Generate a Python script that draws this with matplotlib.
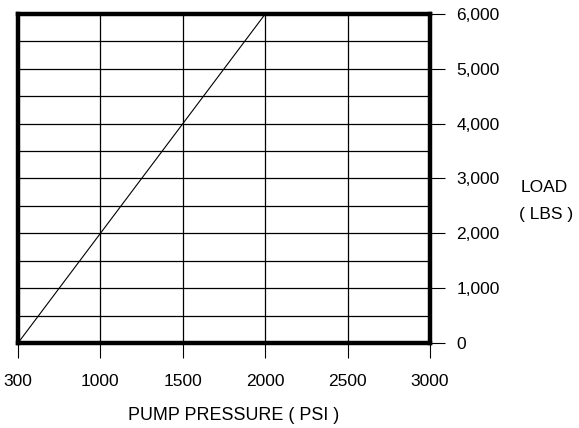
import matplotlib.pyplot as plt
import numpy as np

plt.rcParams['font.family'] = ['Liberation Sans', 'DejaVu Sans']

# data
pressure = [500, 2000]
load = [0, 6000]

x_ticks = [500, 1000, 1500, 2000, 2500, 3000]
x_labels = ["300", "1000", "1500", "2000", "2500", "3000"]
y_ticks = [0, 1000, 2000, 3000, 4000, 5000, 6000]
y_labels = ["0", "1,000", "2,000", "3,000", "4,000", "5,000", "6,000"]
y_grid = np.arange(500, 6000, 500)
x_grid = [1000, 1500, 2000, 2500]

fig = plt.figure(figsize=(5.79, 4.28), dpi=100)
ax = fig.add_axes([0.0311, 0.1986, 0.7116, 0.7687])

for g in y_grid:
    ax.axhline(g, color="black", lw=0.9, zorder=1)
for g in x_grid:
    ax.axvline(g, color="black", lw=0.9, zorder=1)

ax.plot(pressure, load, color="black", lw=0.8, zorder=2)

ax.set_xlim(500, 3000)
ax.set_ylim(0, 6000)

for s in ax.spines.values():
    s.set_linewidth(3.2)
    s.set_zorder(3)

ax.set_xticks(x_ticks)
ax.set_xticklabels(x_labels)
ax.set_yticks(y_ticks)
ax.set_yticklabels(y_labels)
ax.yaxis.tick_right()
ax.tick_params(axis="x", direction="out", length=11, width=0.8, pad=11, labelsize=12.5)
ax.tick_params(axis="y", direction="out", length=11, width=0.8, pad=8, labelsize=12.5)

# axis title sits a little right of centre in the original
fig.text(234 / 579, 1 - 415 / 428, "PUMP PRESSURE ( PSI )", fontsize=12.9,
         ha="center", va="center")

fig.text(521 / 579, 1 - 188 / 428, "LOAD", fontsize=12.5, ha="left", va="center")
fig.text(519 / 579, 1 - 215 / 428, "( LBS )", fontsize=12.5, ha="left", va="center")

plt.savefig("out.png", dpi=100)
